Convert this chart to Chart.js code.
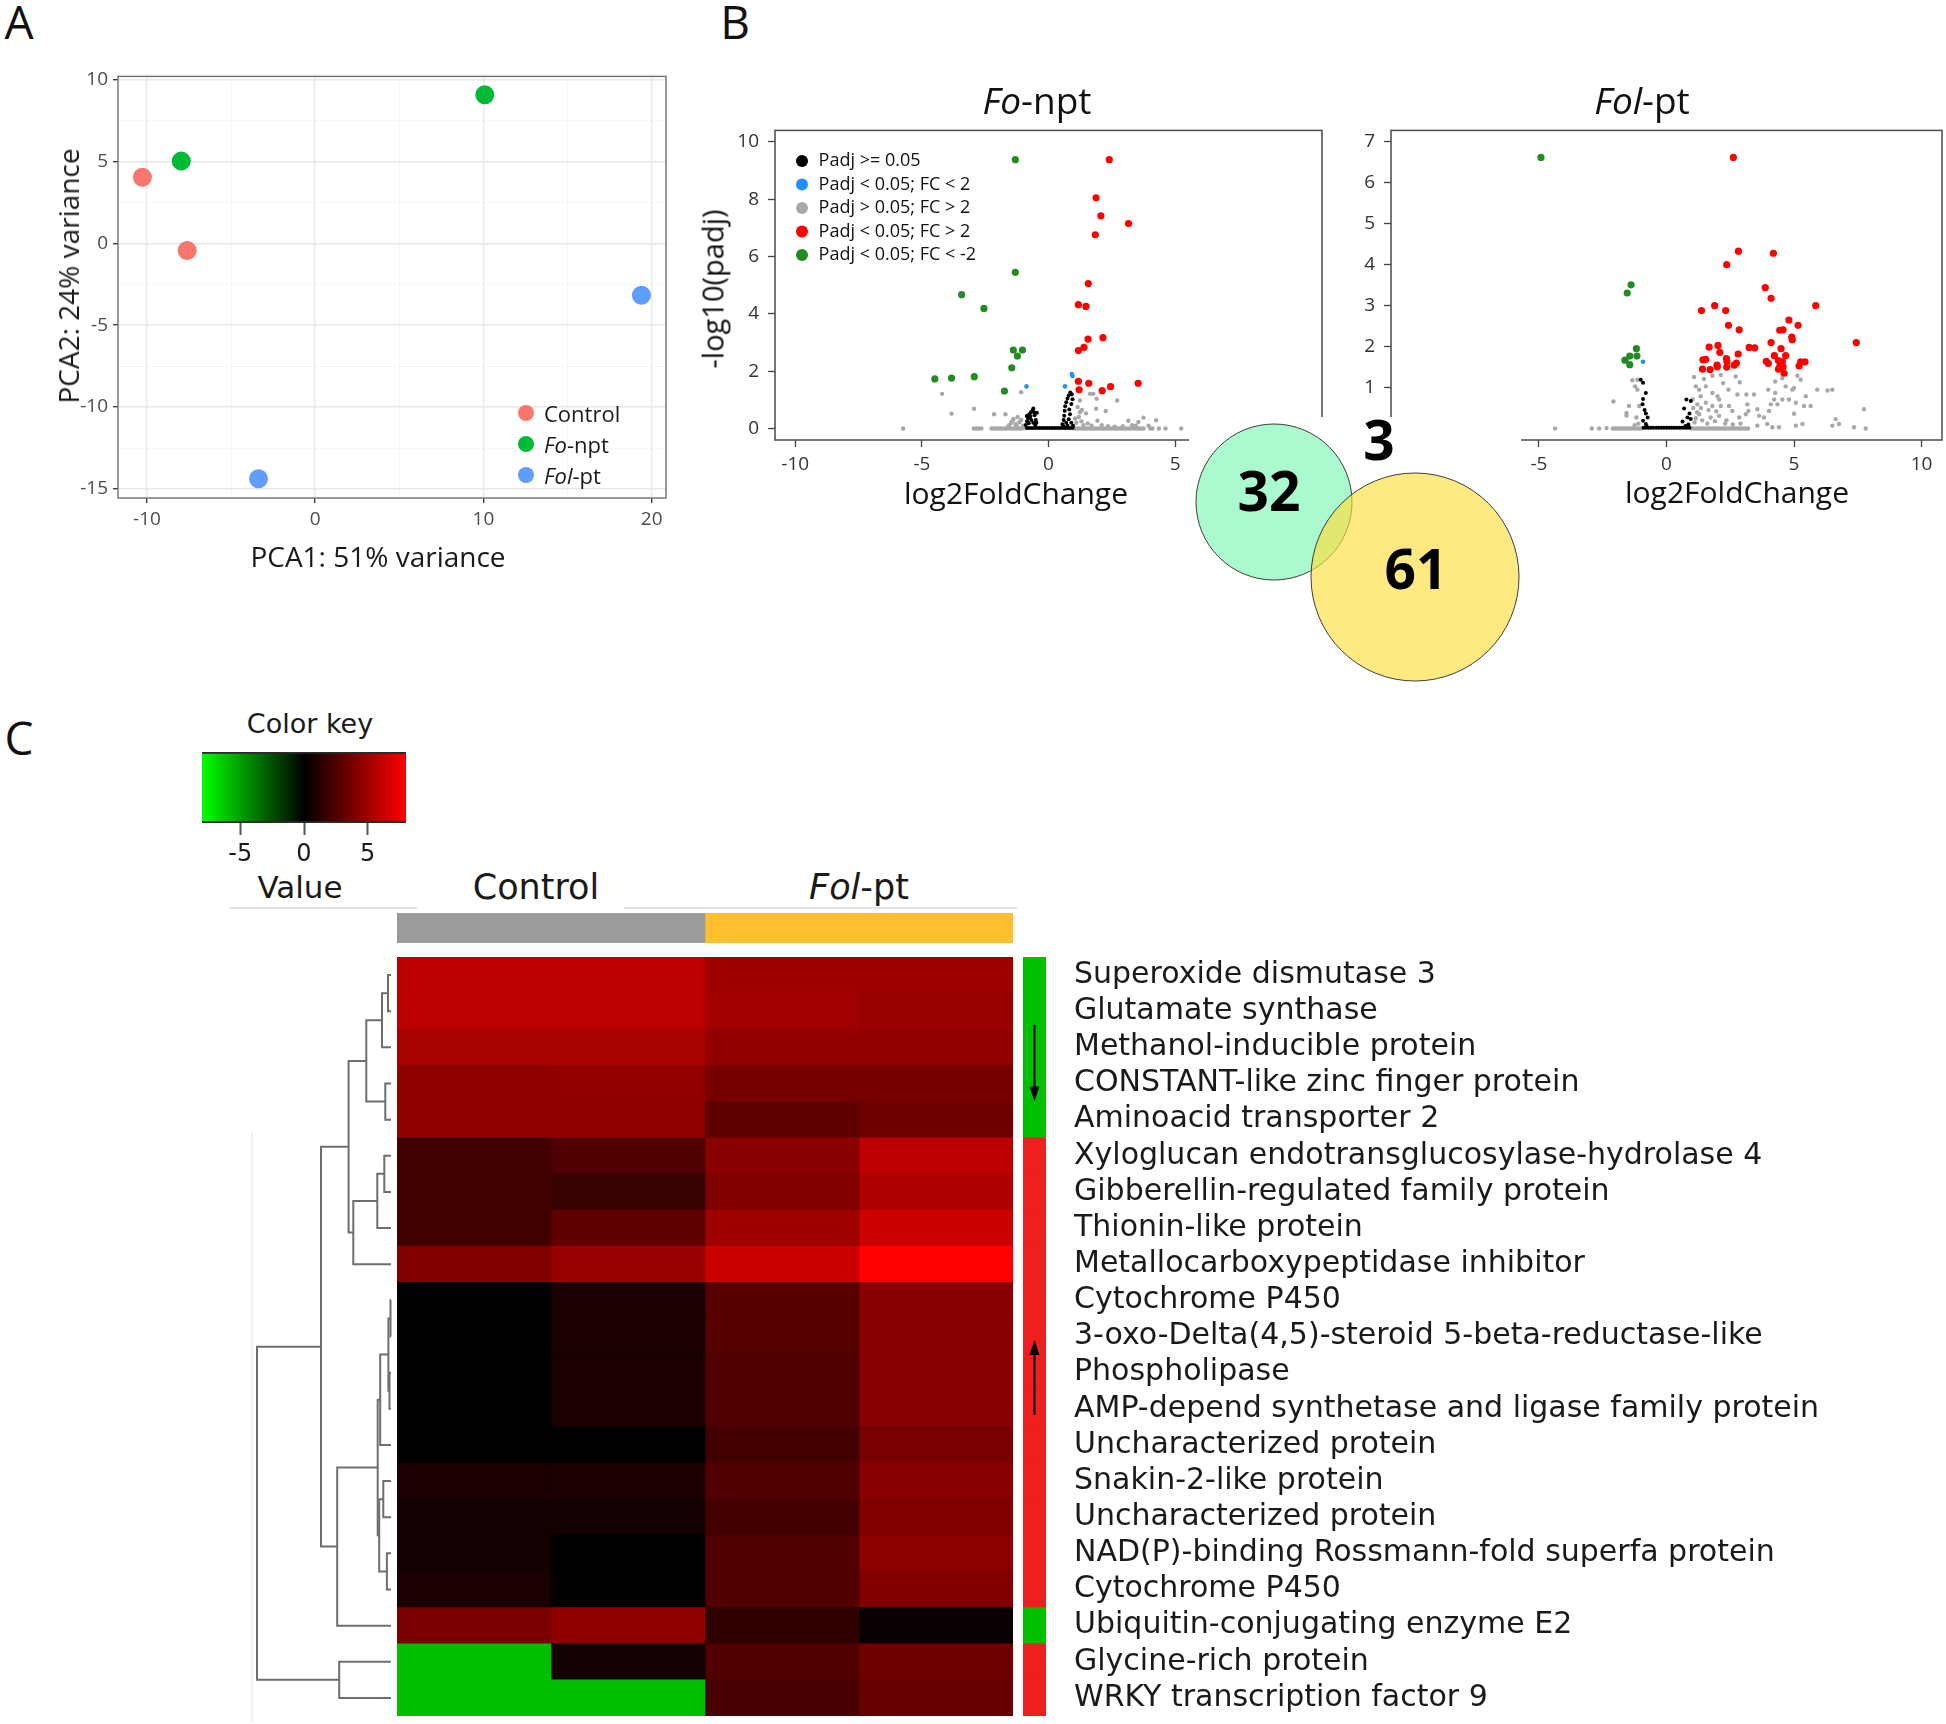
<!DOCTYPE html>
<html>
<head>
<meta charset="utf-8">
<script src="https://cdn.jsdelivr.net/npm/chart.js@4.4.1/dist/chart.umd.min.js"></script>
<style>
  html, body { margin: 0; padding: 0; background: #fff; }
  #page { position: relative; width: 1946px; height: 1724px; overflow: hidden; font-family: 'Open Sans', sans-serif; color: #111; }
  .box { position: absolute; }
  .box canvas { display: block; }
  .txt { position: absolute; white-space: nowrap; transform: translate(-50%, -50%); line-height: 1; }
  .dej { font-family: 'DejaVu Sans', sans-serif; color: #1a1a1a; }
  .hline { position: absolute; height: 2px; background: #e4e4e4; }
</style>
</head>
<body>
<div id="page"></div>
<script>
// ---------- A : PCA ----------
const pcaGroups = ['Control', 'Fo-npt', 'Fol-pt'];
const pcaControl = [[-10.27, 4.03], [-7.61, -0.45]];
const pcaFoNpt = [[-7.96, 5.01], [10.08, 9.06]];
const pcaFolPt = [[19.39, -3.18], [-3.37, -14.38]];
const pcaXTicks = [-10, 0, 10, 20];
const pcaYTicks = [-15, -10, -5, 0, 5, 10];
const pcaXGrid = [-10, -5, 0, 5, 10, 15, 20];
const pcaYGrid = [-15, -12.5, -10, -7.5, -5, -2.5, 0, 2.5, 5, 7.5, 10];

// ---------- B : volcano plots ----------
const volcanoLegend = ['Padj >= 0.05', 'Padj < 0.05; FC < 2', 'Padj > 0.05; FC > 2', 'Padj < 0.05; FC > 2', 'Padj < 0.05; FC < -2'];
const volcanoXTicks = [-10, -5, 0, 5, 10];
const fonptYTicks = [0, 2, 4, 6, 8, 10];
const folptYTicks = [0, 1, 2, 3, 4, 5, 6, 7];

const fonptGreen = [[-1.31,9.38],[-1.31,5.45],[-3.43,4.67],[-2.55,4.19],[-1.39,2.74],[-1.03,2.74],[-1.23,2.53],[-1.45,2.12],[-2.93,1.81],[-3.83,1.76],[-4.49,1.73],[-1.74,1.31]];
const fonptRed = [[2.40,9.38],[1.88,8.05],[2.07,7.42],[3.16,7.15],[1.85,6.76],[1.57,5.06],[1.18,4.32],[1.48,4.26],[1.56,3.12],[2.15,3.17],[1.40,2.83],[1.18,2.72],[1.18,1.65],[1.59,1.58],[3.54,1.58],[2.45,1.46],[2.12,1.32],[1.21,1.35]];
const fonptBlue = [[0.92,1.90],[0.95,1.83],[-0.87,1.47],[0.65,1.47]];
const fonptBlack = [
  [-0.85,0.02],[-0.75,0.02],[-0.65,0.02],[-0.55,0.02],[-0.45,0.02],[-0.35,0.02],[-0.25,0.02],[-0.15,0.02],[-0.05,0.02],[0.05,0.02],[0.15,0.02],[0.25,0.02],[0.35,0.02],[0.45,0.02],[0.55,0.02],[0.65,0.02],[0.75,0.02],[0.85,0.02],[0.95,0.02],
  [-0.9,0.12],[-0.85,0.25],[-0.8,0.36],[-0.76,0.5],[-0.7,0.56],[-0.64,0.62],[-0.6,0.7],[-0.55,0.46],[-0.5,0.3],[-0.46,0.55],[-0.86,0.44],[-0.78,0.18],[-0.68,0.3],[-0.6,0.2],[-0.52,0.12],[-0.72,0.42],[-0.58,0.58],[-0.48,0.2],
  [0.55,0.15],[0.6,0.3],[0.62,0.45],[0.64,0.62],[0.66,0.78],[0.7,0.92],[0.75,1.05],[0.8,1.15],[0.86,1.26],[0.92,1.2],[0.95,1.02],[0.9,0.86],[0.85,0.5],[0.8,0.32],[0.9,0.2],[0.97,0.1],[0.7,0.2],[0.82,0.66],[0.6,0.06],[0.75,0.1]
];
const fonptGray = [
  [-5.74,0],[-4.20,1.21],[-3.83,0.52],[-2.94,0.69],[-2.15,0.50],[-1.70,0.50],[-1.08,1.27],[-1.42,0.27],
  [-2.95,0],[-2.85,0],[-2.75,0],[-2.65,0],[-2.25,0],[-2.15,0],[-2.05,0],[-1.95,0],[-1.85,0],[-1.75,0],[-1.65,0],[-1.55,0],[-1.45,0],[-1.35,0],[-1.25,0],[-1.15,0],[-1.05,0],[-0.95,0.02],
  [-1.55,0.12],[-1.48,0.2],[-1.38,0.33],[-1.3,0.15],[-1.22,0.4],[-1.15,0.22],[-1.08,0.3],[-1.0,0.1],[-1.6,0.06],[-1.25,0.08],
  [1.05,0],[1.15,0],[1.25,0],[1.35,0],[1.45,0],[1.55,0],[1.65,0],[1.75,0],[1.85,0],[1.95,0],[2.05,0],[2.15,0],[2.25,0],[2.35,0],[2.45,0],[2.55,0],[2.65,0],[2.75,0],[2.85,0],[2.95,0],[3.05,0],[3.15,0],[3.25,0],[3.35,0],[3.45,0],[3.55,0],[3.65,0],[3.75,0],[4.02,0],[4.1,0],[4.36,0],[4.62,0],[5.24,0],
  [1.24,0.98],[1.64,1.21],[1.77,1.21],[1.90,1.04],[2.71,0.98],[1.88,0.69],[2.26,0.61],[1.24,0.57],[1.48,0.53],[1.93,0.27],[3.15,0.27],[3.55,0.23],[3.75,0.38],[4.25,0.29],[2.61,0.06],[2.93,0.08],
  [1.05,0.35],[1.1,0.2],[1.2,0.4],[1.3,0.25],[1.38,0.12],[1.55,0.18],[1.7,0.1],[2.1,0.12],[2.35,0.08],[1.15,0.75],[1.32,0.65],[3.3,0.12],[3.45,0.1],[3.95,0.1]
];

const folptGreen = [[-4.92,6.62],[-1.39,3.51],[-1.54,3.31],[-1.18,1.95],[-1.44,1.77],[-1.16,1.77],[-1.63,1.67],[-1.44,1.56]];
const folptBlue = [[-0.92,1.63]];
const folptRed = [
  [2.62,6.62],[2.82,4.33],[4.19,4.28],[2.36,4.0],[3.87,3.44],[4.10,3.18],
  [1.37,2.88],[1.89,3.0],[2.32,2.88],[2.43,2.52],[2.85,2.41],[5.85,3.0],[4.80,2.65],[4.44,2.40],[4.57,2.41],[5.16,2.52],[4.91,2.23],[4.93,2.17],[7.44,2.10],
  [1.67,1.99],[2.02,2.03],[2.09,1.86],[2.81,1.82],[3.24,1.98],[3.46,1.97],[4.10,2.10],[4.49,1.95],[4.23,1.78],[4.67,1.78],
  [1.43,1.68],[1.54,1.69],[1.98,1.55],[1.99,1.51],[2.35,1.71],[2.37,1.63],[2.74,1.60],[2.65,1.55],[2.36,1.50],
  [3.91,1.64],[3.99,1.59],[4.39,1.66],[4.54,1.63],[4.44,1.51],[4.57,1.51],[4.39,1.45],[4.61,1.35],[5.26,1.63],[5.43,1.63],[5.20,1.53],[1.41,1.45],[1.71,1.44]
];
const folptBlack = [
  [-0.9,0.02],[-0.8,0.02],[-0.7,0.02],[-0.6,0.02],[-0.5,0.02],[-0.4,0.02],[-0.3,0.02],[-0.2,0.02],[-0.1,0.02],[0,0.02],[0.1,0.02],[0.2,0.02],[0.3,0.02],[0.4,0.02],[0.5,0.02],[0.6,0.02],[0.7,0.02],[0.8,0.02],[0.9,0.02],
  [-1.01,1.19],[-0.92,1.12],[-0.81,0.87],[-0.92,0.72],[-0.94,0.59],[-0.81,0.37],[-0.74,0.27],[-0.92,0.19],[-0.81,0.11],[-0.86,0.45],[-0.78,0.06],
  [0.78,0.71],[0.95,0.67],[0.69,0.49],[0.9,0.37],[0.82,0.27],[0.63,0.17],[0.95,0.23],[0.86,0.1],[0.74,0.06]
];
const folptGray = [
  [-4.37,0],[-2.93,0],[-2.64,0],[-2.35,0.01],[-2.1,0],[-2.0,0],[-1.9,0],[-1.8,0],[-1.7,0],[-1.6,0],[-1.5,0],[-1.4,0],[-1.3,0],[-1.2,0],[-1.1,0],[-1.0,0],
  [-2.08,0.66],[-1.47,0.55],[-1.57,0.32],[-1.57,0.38],[-1.34,1.18],[-1.14,1.19],[-1.23,1.03],[-1.14,0.95],[-1.07,0.55],[-1.18,0.27],[-1.1,0.12],[-1.25,0.08],
  [1.0,0],[1.1,0],[1.2,0],[1.3,0],[1.4,0],[1.5,0],[1.6,0],[1.7,0],[1.8,0],[1.9,0],[2.0,0],[2.1,0],[2.2,0],[2.3,0],[2.4,0],[2.5,0],[2.6,0],[2.7,0],[2.8,0],[2.9,0],[3.0,0],[3.1,0],[3.2,0],
  [1.08,1.26],[1.47,1.21],[1.80,1.29],[2.13,1.31],[2.22,1.11],[2.71,1.27],[2.87,1.13],[1.15,1.03],[1.28,0.95],[1.54,1.03],[1.34,0.79],[1.80,0.87],[2.00,0.79],[2.43,0.95],[2.78,0.83],[3.13,0.83],[3.43,0.83],
  [1.02,0.71],[1.21,0.59],[1.54,0.63],[1.80,0.55],[2.06,0.71],[2.13,0.55],[2.45,0.55],[2.58,0.43],[3.17,0.59],[3.21,0.43],[3.56,0.47],[3.63,0.31],[1.28,0.35],[1.73,0.27],[2.06,0.31],[2.85,0.27],[3.11,0.35],[3.82,0.27],
  [4.02,0.43],[4.09,0.59],[4.22,0.71],[4.26,0.87],[3.99,0.95],[4.26,1.15],[4.54,1.23],[4.67,1.03],[4.93,0.95],[5.13,1.29],[5.26,1.19],[5.00,0.99],[5.46,0.79],[5.39,0.55],[5.65,0.55],[5.91,0.95],[6.31,0.93],[6.50,0.95],
  [5.00,0.36],[4.35,0.59],[4.54,0.71],[4.80,0.71],[5.07,0.63],[5.33,0.11],[5.07,0.07],[6.63,0.23],[6.50,0.07],[6.76,0.11],[7.74,0.47],[7.35,0.03],[7.81,0],[3.56,0.07],[3.95,0.11],[4.15,0.03],[4.41,0.03],
  [1.1,0.15],[1.2,0.4],[1.05,0.5],[1.4,0.2],[1.6,0.12],[1.9,0.18],[2.3,0.12],[2.6,0.1],[1.15,0.25],[1.35,0.5],[1.65,0.45],[1.95,0.42],[2.35,0.2],[2.9,0.12]
];

// venn: Fo-npt only, shared, Fol-pt only
const vennSets = ['Fo-npt', 'Fol-pt'];
const vennCounts = [32, 3, 61];

// ---------- C : heatmap ----------
const geneLabels = [
  'Superoxide dismutase 3', 'Glutamate synthase', 'Methanol-inducible protein', 'CONSTANT-like zinc finger protein',
  'Aminoacid transporter 2', 'Xyloglucan endotransglucosylase-hydrolase 4', 'Gibberellin-regulated family protein',
  'Thionin-like protein', 'Metallocarboxypeptidase inhibitor', 'Cytochrome P450',
  '3-oxo-Delta(4,5)-steroid 5-beta-reductase-like', 'Phospholipase', 'AMP-depend synthetase and ligase family protein',
  'Uncharacterized protein', 'Snakin-2-like protein', 'Uncharacterized protein', 'NAD(P)-binding Rossmann-fold superfa protein',
  'Cytochrome P450', 'Ubiquitin-conjugating enzyme E2', 'Glycine-rich protein', 'WRKY transcription factor 9'
];
const sampleNames = ['Control 1', 'Control 2', 'Fol-pt 1', 'Fol-pt 2'];
const heatControl1 = [5.9, 5.9, 5.3, 4.5, 4.5, 2.0, 2.0, 2.0, 4.0, 0, 0, 0, 0, 0, 0.8, 0.6, 0.6, 0.8, 3.8, -6.0, -6.0];
const heatControl2 = [5.9, 5.9, 5.3, 4.6, 4.5, 2.5, 1.8, 3.0, 4.8, 0.8, 0.8, 0.8, 0.8, 0, 0.8, 0.6, 0, 0, 4.5, 0.6, -6.0];
const heatFolpt1 = [5.0, 5.1, 4.6, 3.7, 3.0, 4.3, 4.0, 5.0, 6.4, 2.7, 2.7, 2.5, 2.5, 2.1, 2.5, 2.1, 2.5, 2.5, 1.5, 2.5, 2.3];
const heatFolpt2 = [5.0, 4.8, 4.6, 3.7, 3.5, 5.9, 5.5, 6.4, 8.0, 4.3, 4.3, 4.3, 4.3, 3.8, 4.3, 4.0, 4.4, 4.0, 0.25, 3.5, 3.3];
const geneDirection = ['down','down','down','down','down','up','up','up','up','up','up','up','up','up','up','up','up','up','down','up','up'];
const groupNames = ['Control', 'Fol-pt'];
const groupSizes = [2, 2];
const colorKeyTicks = [-5, 0, 5];
const keyMin = -8, keyMax = 8;
// row clustering: [left, right, height]; numbers are rows, 'mK' is merge K
const dendroMerges = [
  [0, 1, 3], ['m0', 2, 9], [3, 4, 5.7], ['m1', 'm2', 24.7],
  [5, 6, 6.7], ['m4', 7, 13.7], ['m5', 8, 37.7], ['m3', 'm6', 42.4],
  [9, 10, 0.5], [11, 12, 1.5], ['m8', 'm9', 2.6], ['m10', 13, 10.8],
  [14, 15, 7.7], [16, 17, 4.1], ['m12', 'm13', 11.8], ['m11', 'm14', 13.3],
  ['m15', 18, 53.8], ['m7', 'm16', 70], [19, 20, 51.8], ['m17', 'm18', 134]
];

// ---------- helpers ----------
const page = document.getElementById('page');
Chart.defaults.font.family = "'Open Sans', sans-serif";
Chart.defaults.color = '#333';

function mk(left, top, w, h, bg) {
  const d = document.createElement('div');
  d.className = 'box';
  Object.assign(d.style, { left: left + 'px', top: top + 'px', width: w + 'px', height: h + 'px' });
  if (bg) d.style.background = bg;
  const c = document.createElement('canvas');
  c.width = w; c.height = h;
  c.style.width = w + 'px'; c.style.height = h + 'px';
  d.appendChild(c);
  page.appendChild(d);
  return c;
}

function txt(html, x, y, css) {
  const d = document.createElement('div');
  d.className = 'txt';
  d.innerHTML = html;
  d.style.left = x + 'px';
  d.style.top = y + 'px';
  Object.assign(d.style, css || {});
  page.appendChild(d);
  return d;
}

const pts = a => a.map(p => ({ x: p[0], y: p[1] }));
const quiet = extra => Object.assign({ legend: { display: false }, tooltip: { enabled: false } }, extra || {});
const base = () => ({ responsive: false, maintainAspectRatio: false, animation: false, events: [] });

function heatColor(v) {
  const t = Math.min(Math.abs(v), keyMax) / keyMax;
  const c = Math.round(255 * t);
  return v >= 0 ? `rgb(${c},0,0)` : `rgb(0,${c},0)`;
}

// box around the plot area
const framePlugin = {
  id: 'frame',
  afterDatasetsDraw(chart, args, o) {
    const a = chart.chartArea, ctx = chart.ctx;
    ctx.save();
    ctx.strokeStyle = o.color || '#444';
    ctx.lineWidth = o.width || 1;
    ctx.strokeRect(a.left, a.top, a.right - a.left, a.bottom - a.top);
    ctx.restore();
  }
};

// legend drawn inside the plot, from the datasets
const insetLegend = {
  id: 'insetLegend',
  afterDraw(chart, args, o) {
    if (!o || !o.show) return;
    const a = chart.chartArea, ctx = chart.ctx;
    ctx.save();
    ctx.font = o.font;
    ctx.textBaseline = 'middle';
    chart.data.datasets.forEach((ds, i) => {
      const y = a.top + o.y + i * o.gap;
      ctx.fillStyle = ds.backgroundColor;
      ctx.beginPath();
      ctx.arc(a.left + o.x, y, o.r, 0, Math.PI * 2);
      ctx.fill();
      ctx.fillStyle = '#111';
      ctx.fillText(ds.label, a.left + o.x + o.dx, y);
    });
    ctx.restore();
  }
};

// ---------- panel A ----------
function pcaAxis(grid, major, min, max, fit) {
  const isMajor = c => c.tick && major.includes(c.tick.value);
  return {
    type: 'linear', min, max,
    afterBuildTicks: s => { s.ticks = grid.map(v => ({ value: v })); },
    afterFit: fit,
    border: { display: false },
    grid: {
      color: c => isMajor(c) ? '#e8e8e8' : '#f4f4f4',
      lineWidth: c => isMajor(c) ? 1.4 : 0.8,
      tickColor: c => isMajor(c) ? '#333' : 'rgba(0,0,0,0)',
      tickLength: 5, tickWidth: 1.3
    },
    ticks: {
      autoSkip: false, maxRotation: 0, minRotation: 0, padding: 5,
      color: '#4d4d4d', font: { size: 19 },
      callback: v => major.includes(v) ? String(v) : ''
    }
  };
}

const pcaColors = ['#f8766d', '#00ba38', '#619cff'];
const pcaSeries = [pcaControl, pcaFoNpt, pcaFolPt];

new Chart(mk(0, 60, 700, 520), {
  type: 'scatter',
  data: {
    datasets: pcaSeries.map((s, i) => ({
      label: pcaGroups[i], data: pts(s), backgroundColor: pcaColors[i], borderWidth: 0, pointRadius: 9.5
    }))
  },
  options: Object.assign(base(), {
    layout: { padding: { top: 13, right: 34, left: 0, bottom: 0 } },
    plugins: quiet({ frame: { color: '#707070', width: 1.4 } }),
    scales: {
      x: pcaAxis(pcaXGrid, pcaXTicks, -11.72, 20.85, s => { s.height = 82; }),
      y: pcaAxis(pcaYGrid, pcaYTicks, -15.55, 10.18, s => { s.width = 118; })
    }
  }),
  plugins: [framePlugin]
});

txt('A', 19, 21, { fontSize: '46px' });
txt('PCA1: 51% variance', 378, 556, { fontSize: '28px', color: '#1a1a1a' });
txt('PCA2: 24% variance', 68, 276, { fontSize: '28px', color: '#1a1a1a', transform: 'translate(-50%,-50%) rotate(-90deg)' });

const pcaLegendNames = ['Control', '<i>Fo</i>-npt', '<i>Fol</i>-pt'];
pcaLegendNames.forEach((name, i) => {
  const y = 413 + i * 31;
  const dot = document.createElement('div');
  Object.assign(dot.style, { position: 'absolute', left: '518px', top: (y - 8) + 'px', width: '16px', height: '16px', borderRadius: '50%', background: pcaColors[i] });
  page.appendChild(dot);
  txt(name, 544, y, { fontSize: '22px', color: '#1a1a1a', transform: 'translate(0,-50%)' });
});

// ---------- panel B ----------
function volcAxis(ticks, min, max, fit, pad) {
  return {
    type: 'linear', min, max,
    afterBuildTicks: s => { s.ticks = ticks.map(v => ({ value: v })); },
    afterFit: fit,
    border: { display: false },
    grid: { drawOnChartArea: false, drawTicks: true, tickLength: 7, tickColor: '#444', tickWidth: 1.3 },
    ticks: { autoSkip: false, maxRotation: 0, minRotation: 0, padding: pad, color: '#333', font: { size: 19 } }
  };
}

function volcano(canvas, o) {
  return new Chart(canvas, {
    type: 'scatter',
    data: {
      datasets: o.sets.map(s => ({
        label: s.label, data: pts(s.data), backgroundColor: s.color, borderWidth: 0, pointRadius: s.r, order: s.order
      }))
    },
    options: Object.assign(base(), {
      layout: { padding: { top: 17, right: o.padRight, left: 0, bottom: 0 } },
      plugins: quiet({
        frame: { color: '#4a4a4a', width: 1.5 },
        insetLegend: { show: o.legend, x: 27, y: 30.7, gap: 23.5, r: 6, dx: 16.6, font: "18px 'Open Sans'" }
      }),
      scales: {
        x: volcAxis(volcanoXTicks, -10.8, 10.8, s => { s.height = 60; }, 6),
        y: volcAxis(o.yTicks, o.yMin, o.yMax, s => { s.width = o.yWidth; }, 9)
      }
    }),
    plugins: [framePlugin, insetLegend]
  });
}

const volcColors = ['#000000', '#1e90ff', '#a8a8a8', '#ff0000', '#228b22'];
const volcRadius = [2, 2.3, 2.2, 3.6, 3.6];
const volcOrder = [3, 2, 4, 1, 0];
const volcSets = series => series.map((d, i) => ({
  label: volcanoLegend[i], data: d, color: volcColors[i], r: volcRadius[i], order: volcOrder[i]
}));

volcano(mk(700, 110, 640, 390), {
  sets: volcSets([fonptBlack, fonptBlue, fonptGray, fonptRed, fonptGreen]),
  yTicks: fonptYTicks, yMin: -0.4, yMax: 10.4, yWidth: 75, padRight: 18, legend: true
});
volcano(mk(1320, 110, 626, 390), {
  sets: volcSets([folptBlack, folptBlue, folptGray, folptRed, folptGreen]),
  yTicks: folptYTicks, yMin: -0.28, yMax: 7.28, yWidth: 71, padRight: 4, legend: false
});

txt('B', 735, 21, { fontSize: '46px' });
txt('<i>Fo</i>-npt', 1037, 99, { fontSize: '37px' });
txt('<i>Fol</i>-pt', 1642, 99, { fontSize: '37px' });
txt('-log10(padj)', 712, 289, { fontSize: '29px', transform: 'translate(-50%,-50%) rotate(-90deg)' });
txt('log2FoldChange', 1016, 493, { fontSize: '30px' });
txt('log2FoldChange', 1737, 492, { fontSize: '30px' });

// venn diagram: a white panel laid over the plot corners, circles drawn by a
// scatter chart whose canvas has room around the panel for the big markers
const vennBox = { left: 1189, top: 417, w: 332, h: 275 };
const vennPad = 112;
const vennLayout = [{ x: 85, y: 85, r: 78 }, { x: 226, y: 160, r: 104 }];
const vennLabelAt = [[80, 78], [190, 27], [227, 156]];
const vennText = {
  id: 'vennText',
  afterDatasetsDraw(chart) {
    const ctx = chart.ctx, xs = chart.scales.x, ys = chart.scales.y;
    ctx.save();
    ctx.fillStyle = '#000';
    ctx.font = "bold 55px 'Open Sans'";
    ctx.textAlign = 'center';
    ctx.textBaseline = 'middle';
    vennCounts.forEach((n, i) => {
      ctx.fillText(String(n), xs.getPixelForValue(vennLabelAt[i][0]), ys.getPixelForValue(vennLabelAt[i][1]));
    });
    ctx.restore();
  }
};
const vennWhite = document.createElement('div');
Object.assign(vennWhite.style, {
  position: 'absolute', background: '#fff',
  left: vennBox.left + 'px', top: vennBox.top + 'px', width: vennBox.w + 'px', height: vennBox.h + 'px'
});
page.appendChild(vennWhite);
new Chart(mk(vennBox.left - vennPad, vennBox.top - vennPad, vennBox.w + 2 * vennPad, vennBox.h + 2 * vennPad), {
  type: 'scatter',
  data: {
    datasets: vennSets.map((name, i) => ({
      label: name,
      data: [{ x: vennLayout[i].x, y: vennLayout[i].y }],
      pointRadius: vennLayout[i].r,
      pointBackgroundColor: i === 0 ? '#aaf9cf' : 'rgba(253,222,60,0.65)',
      pointBorderColor: '#3c3c3c',
      pointBorderWidth: 1,
      order: 1 - i,
      clip: false
    }))
  },
  options: Object.assign(base(), {
    layout: { padding: vennPad },
    plugins: quiet(),
    scales: {
      x: { type: 'linear', display: false, min: 0, max: vennBox.w },
      y: { type: 'linear', display: false, min: 0, max: vennBox.h, reverse: true }
    }
  }),
  plugins: [vennText]
});

// ---------- panel C ----------
txt('C', 19, 737, { fontSize: '46px' });
txt('Color key', 310, 723, { fontSize: '27px' }).classList.add('dej');
txt('Value', 300, 887, { fontSize: '31px' }).classList.add('dej');
txt('Control', 536, 887, { fontSize: '35px' }).classList.add('dej');
txt('<i>Fol</i>-pt', 859, 887, { fontSize: '35px' }).classList.add('dej');

[[230, 187], [624, 393]].forEach(([l, w]) => {
  const d = document.createElement('div');
  d.className = 'hline';
  Object.assign(d.style, { left: l + 'px', top: '907px', width: w + 'px' });
  page.appendChild(d);
});
const faint = document.createElement('div');
Object.assign(faint.style, { position: 'absolute', left: '251px', top: '1132px', width: '2px', height: '590px', background: '#efefef' });
page.appendChild(faint);

// color key
new Chart(mk(202, 752, 204, 120), {
  type: 'bar',
  data: {
    labels: ['key'],
    datasets: [{
      data: [[keyMin, keyMax]],
      backgroundColor(c) {
        const a = c.chart.chartArea;
        if (!a) return '#000';
        const g = c.chart.ctx.createLinearGradient(a.left, 0, a.right, 0);
        g.addColorStop(0, heatColor(keyMin));
        g.addColorStop(0.5, heatColor(0));
        g.addColorStop(1, heatColor(keyMax));
        return g;
      },
      borderColor: '#2a2a2a',
      borderWidth: { top: 2, bottom: 2, left: 0, right: 0 },
      borderSkipped: false,
      barPercentage: 1, categoryPercentage: 1
    }]
  },
  options: Object.assign(base(), {
    indexAxis: 'y',
    plugins: quiet(),
    scales: {
      y: { display: false },
      x: {
        type: 'linear', min: keyMin, max: keyMax,
        afterBuildTicks: s => { s.ticks = colorKeyTicks.map(v => ({ value: v })); },
        afterFit: s => { s.height = 49; },
        border: { display: false },
        grid: { drawOnChartArea: false, drawTicks: true, tickLength: 12, tickColor: '#555', tickWidth: 2 },
        ticks: { padding: 5, color: '#1a1a1a', maxRotation: 0, font: { family: "'DejaVu Sans', sans-serif", size: 24 } }
      }
    }
  })
});

// column group bar
const groupColors = ['#9b9b9b', '#fdbf2d'];
new Chart(mk(397, 913, 616, 30), {
  type: 'bar',
  data: {
    labels: ['group'],
    datasets: groupNames.map((g, i) => ({
      label: g, data: [groupSizes[i]], backgroundColor: groupColors[i], borderWidth: 0, barPercentage: 1, categoryPercentage: 1
    }))
  },
  options: Object.assign(base(), {
    indexAxis: 'y',
    plugins: quiet(),
    scales: {
      x: { stacked: true, display: false, min: 0, max: groupSizes.reduce((a, b) => a + b, 0) },
      y: { stacked: true, display: false }
    }
  })
});

// heatmap cells
const heatCols = [heatControl1, heatControl2, heatFolpt1, heatFolpt2];
new Chart(mk(397, 957, 616, 759), {
  type: 'bar',
  data: {
    labels: geneLabels,
    datasets: heatCols.map((col, j) => ({
      label: sampleNames[j], data: col.map(() => 1), backgroundColor: col.map(heatColor),
      borderWidth: 0, barPercentage: 1, categoryPercentage: 1
    }))
  },
  options: Object.assign(base(), {
    indexAxis: 'y',
    plugins: quiet(),
    scales: {
      x: { stacked: true, display: false, min: 0, max: heatCols.length },
      y: { stacked: true, display: false }
    }
  })
});

// row dendrogram
function dendroSegments() {
  const pos = {};
  const get = ref => typeof ref === 'number' ? { y: ref + 0.5, h: 0 } : pos[ref];
  return dendroMerges.map((m, i) => {
    const a = get(m[0]), b = get(m[1]), h = m[2];
    pos['m' + i] = { y: (a.y + b.y) / 2, h };
    return [{ x: a.h, y: a.y }, { x: h, y: a.y }, { x: h, y: b.y }, { x: b.h, y: b.y }];
  });
}
new Chart(mk(250, 957, 145, 759), {
  type: 'scatter',
  data: {
    datasets: dendroSegments().map(seg => ({
      data: seg, showLine: true, borderColor: '#6e6e6e', borderWidth: 2, pointRadius: 0, clip: false
    }))
  },
  options: Object.assign(base(), {
    layout: { padding: { left: 7, right: 4, top: 0, bottom: 0 } },
    plugins: quiet(),
    scales: {
      x: { type: 'linear', display: false, reverse: true, min: 0, max: Math.max(...dendroMerges.map(m => m[2])) },
      y: { type: 'linear', display: false, reverse: true, min: 0, max: geneLabels.length }
    }
  })
});

// regulation side bar with gene names
const sideArrows = [[1.88, 4.0], [12.67, 10.6]];
const arrowPlugin = {
  id: 'arrows',
  afterDatasetsDraw(chart) {
    const y = chart.scales.y, a = chart.chartArea, ctx = chart.ctx;
    const cx = (a.left + a.right) / 2;
    ctx.save();
    ctx.strokeStyle = '#000';
    ctx.fillStyle = '#000';
    ctx.lineWidth = 2;
    sideArrows.forEach(([from, to]) => {
      const y0 = y.getPixelForValue(from - 0.5), y1 = y.getPixelForValue(to - 0.5);
      const dir = Math.sign(y1 - y0);
      ctx.beginPath();
      ctx.moveTo(cx, y0);
      ctx.lineTo(cx, y1 - dir * 10);
      ctx.stroke();
      ctx.beginPath();
      ctx.moveTo(cx, y1);
      ctx.lineTo(cx - 5, y1 - dir * 15);
      ctx.lineTo(cx + 5, y1 - dir * 15);
      ctx.closePath();
      ctx.fill();
    });
    ctx.restore();
  }
};
new Chart(mk(1023, 957, 900, 759), {
  type: 'bar',
  data: {
    labels: geneLabels,
    datasets: [{
      label: 'regulation', data: geneDirection.map(() => 1),
      backgroundColor: geneDirection.map(d => d === 'up' ? '#ef1f1f' : '#00c000'),
      borderWidth: 0, barPercentage: 1, categoryPercentage: 1
    }]
  },
  options: Object.assign(base(), {
    indexAxis: 'y',
    plugins: quiet(),
    scales: {
      x: { display: false, min: 0, max: 1 },
      y: {
        position: 'right',
        afterFit: s => { s.width = 877; s.paddingTop = 0; s.paddingBottom = 0; },
        grid: { display: false },
        border: { display: false },
        ticks: { autoSkip: false, padding: 20, color: '#1a1a1a', font: { family: "'DejaVu Sans', sans-serif", size: 30 } }
      }
    }
  }),
  plugins: [arrowPlugin]
});
</script>
</body>
</html>
